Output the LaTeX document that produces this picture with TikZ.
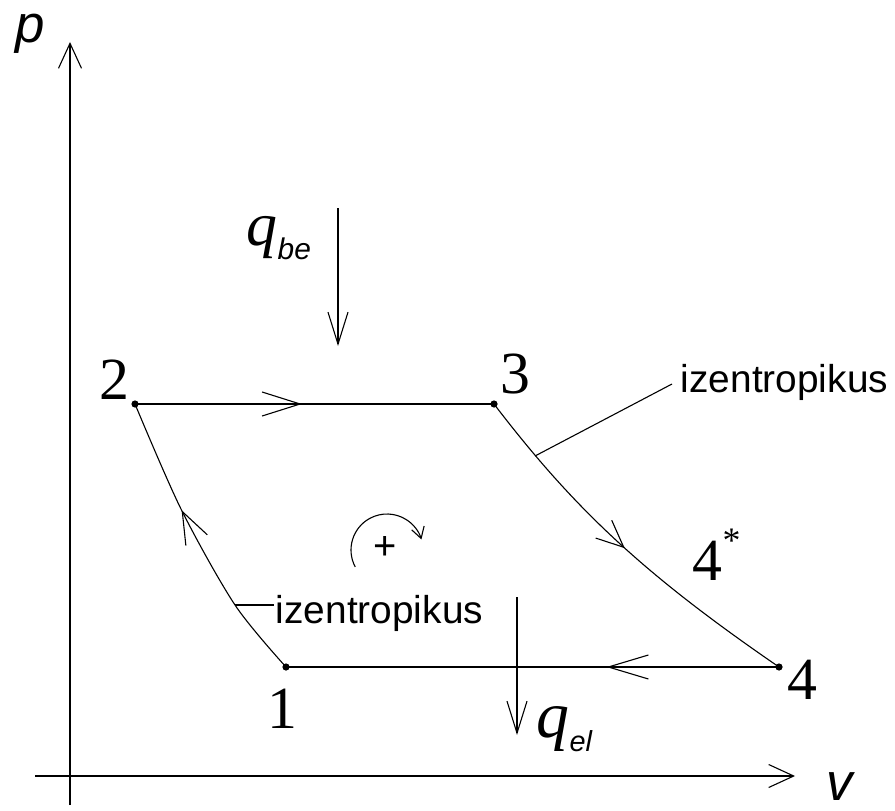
\documentclass[tikz,border=0pt]{standalone}
\usepackage{fontspec}
\setmainfont{Liberation Serif}
\newfontfamily\sansA{Liberation Sans}
\usetikzlibrary{arrows.meta,decorations.markings}
\begin{document}
\begin{tikzpicture}[x=1bp,y=-1bp,line width=1.5bp,
  num/.style={font=\fontsize{60}{60}\selectfont,inner sep=0pt},
  lbl/.style={font=\sansA\fontsize{39}{39}\selectfont,inner sep=0pt,anchor=base west},
  axislbl/.style={font=\sansA\itshape\fontsize{53}{53}\selectfont,inner sep=0pt,anchor=base},
  qlbl/.style={inner sep=0pt,anchor=base west},
  thin line/.style={line width=1.1bp},
  midarrow/.style 2 args={postaction={decorate},decoration={markings,
     mark=at position #1 with {\arrow{Straight Barb[length=#2,width=24bp,line width=1.1bp]}}}}
]
\useasboundingbox (0,0) rectangle (895,811);
% axes
\coordinate (yb) at (70,805);
\coordinate (yt) at (70,42);
\coordinate (xl) at (35,776);
\coordinate (xr) at (795,776);
\draw[-{Straight Barb[length=25bp,width=23bp,line width=1.1bp]}] (yb) -- (yt);
\draw[-{Straight Barb[length=25bp,width=23bp,line width=1.1bp]}] (xl) -- (xr);
\node[axislbl] (plbl) at (30,43) {p};
\node[axislbl] (vlbl) at (840,800) {v};
% state points
\coordinate (p1) at (286,667);
\coordinate (p2) at (135,404);
\coordinate (p3) at (494,404);
\coordinate (p4) at (779,667);
\coordinate (c12b) at (235,605);
\coordinate (c12a) at (181,509);
\coordinate (k1) at (575,510);
\coordinate (k2) at (645,575);
\coordinate (c34a) at (535,456);
% cycle
\draw[midarrow={0.465}{38bp}] (p2) -- (p3);
\draw[thin line,midarrow={0.5}{27bp}] (p3) .. controls (k1) and (k2) .. (p4);
\draw[midarrow={0.35}{40bp}] (p4) -- (p1);
\draw[thin line,midarrow={0.62}{32bp}] plot[smooth] coordinates {(p1) (c12b) (c12a) (p2)};
\foreach \p in {p1,p2,p3,p4} \fill (\p) circle (3.6);
% point labels
\node[num] (l2) at (114,380) {2};
\node[num] (l3) at (515,374) {3};
\node[num] (l4) at (802,680) {4};
\node[num] (l1) at (282,709) {1};
\node[num,anchor=base west] (l4s) at (692,580) {4\raisebox{28bp}{\fontsize{36}{36}\selectfont *}};
% heat arrows
\coordinate (qbet) at (338,208);
\coordinate (qbeb) at (338,346);
\draw[-{Straight Barb[length=32bp,width=20bp,line width=1.1bp]}] (qbet) -- (qbeb);
\node[qlbl] (qbe) at (246,245) {\fontsize{62}{62}\selectfont\itshape q\raisebox{-14bp}{\sansA\itshape\fontsize{30}{30}\selectfont be}};
\coordinate (qelt) at (517,597);
\coordinate (qelb) at (517,735);
\draw[-{Straight Barb[length=32bp,width=20bp,line width=1.1bp]}] (qelt) -- (qelb);
\node[qlbl] (qel) at (536,737) {\fontsize{66}{66}\selectfont\itshape q\raisebox{-14bp}{\sansA\itshape\fontsize{29}{29}\selectfont el}};
% isentropic labels
\node[lbl] (izu) at (680,392) {izentropikus};
\node[lbl] (izl) at (275,623) {izentropikus};
\coordinate (ldu) at (672,384);
\coordinate (ldl) at (274,605);
\draw[thin line] (c34a) -- (ldu);
\draw[thin line] (c12b) -- (ldl);
% sense of rotation
\coordinate (rc) at (387,550);
\draw[thin line,-{Straight Barb[length=11bp,width=13bp,line width=1.1bp]}] ([shift={(152:36)}]rc) arc[start angle=152,end angle=343,radius=36];
\node[font=\sansA\fontsize{40}{40}\selectfont,inner sep=0pt] (plus) at (385,548) {+};
\end{tikzpicture}
\end{document}
